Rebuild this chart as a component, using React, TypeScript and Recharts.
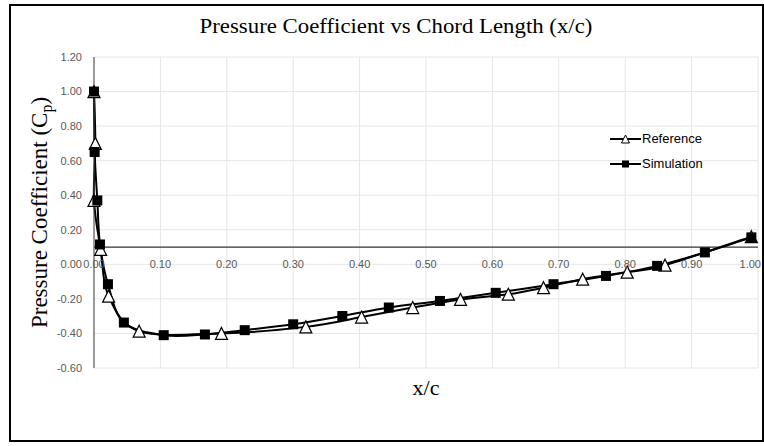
import React from "react";
import {
    LineChart,
    Line,
    XAxis,
    YAxis,
    CartesianGrid,
    ReferenceLine,
    Legend,
} from "recharts";

// x/c positions and Cp values
const REF_X = [0.0, 0.002, 0.0, 0.01, 0.022, 0.068, 0.192, 0.319, 0.403, 0.48, 0.552, 0.624, 0.677, 0.736, 0.803, 0.86, 0.99];
const REF_Y = [1.0, 0.7, 0.37, 0.086, -0.184, -0.387, -0.4, -0.362, -0.305, -0.25, -0.203, -0.173, -0.135, -0.086, -0.045, -0.005, 0.16];

const SIM_X = [0.0, 0.001, 0.005, 0.009, 0.021, 0.045, 0.105, 0.167, 0.227, 0.3, 0.374, 0.444, 0.521, 0.605, 0.692, 0.771, 0.848, 0.92, 0.99];
const SIM_Y = [1.0, 0.65, 0.37, 0.115, -0.115, -0.337, -0.41, -0.406, -0.381, -0.347, -0.299, -0.25, -0.212, -0.165, -0.115, -0.067, -0.009, 0.069, 0.156];

const X_TICKS = [0, 0.1, 0.2, 0.3, 0.4, 0.5, 0.6, 0.7, 0.8, 0.9, 1.0];
const Y_TICKS = [-0.6, -0.4, -0.2, 0, 0.2, 0.4, 0.6, 0.8, 1.0, 1.2];
const AXIS_CROSS = 0.1; // horizontal axis crosses here

const refData = REF_X.map((x, i) => ({ x, cp: REF_Y[i] }));
const simData = SIM_X.map((x, i) => ({ x, cp: SIM_Y[i] }));

const SANS = "'Liberation Sans', Arial, sans-serif";
const SERIF = "'Liberation Serif', 'Times New Roman', serif";
const TICK_GREY = "#595959";

// Excel-like smoothed line (Catmull-Rom as cubic beziers)
function smoothCurve(context: any) {
    let pts: number[][] = [];
    return {
        areaStart() {},
        areaEnd() {},
        lineStart() {
            pts = [];
        },
        point(x: number, y: number) {
            pts.push([+x, +y]);
        },
        lineEnd() {
            if (!pts.length) return;
            context.moveTo(pts[0][0], pts[0][1]);
            for (let i = 0; i < pts.length - 1; i++) {
                const p0 = pts[i - 1] || pts[i];
                const p1 = pts[i];
                const p2 = pts[i + 1];
                const p3 = pts[i + 2] || p2;
                context.bezierCurveTo(
                    p1[0] + (p2[0] - p0[0]) / 6,
                    p1[1] + (p2[1] - p0[1]) / 6,
                    p2[0] - (p3[0] - p1[0]) / 6,
                    p2[1] - (p3[1] - p1[1]) / 6,
                    p2[0],
                    p2[1]
                );
            }
        },
    };
}

const TriangleDot = (props: any) => {
    const { cx, cy, index } = props;
    if (cx == null || cy == null) return null;
    return (
        <path
            key={`t-${index}`}
            d={`M${cx},${cy - 6}L${cx + 6},${cy + 6}L${cx - 6},${cy + 6}Z`}
            fill="#fff"
            stroke="#000"
            strokeWidth={1.2}
        />
    );
};

const SquareDot = (props: any) => {
    const { cx, cy, index } = props;
    if (cx == null || cy == null) return null;
    return <rect key={`s-${index}`} x={cx - 5} y={cy - 5} width={10} height={10} fill="#000" />;
};

// x tick labels sit just under the axis line at Cp = 0.1, not at the plot bottom
const XTick = (props: any) => {
    const { x, y, payload } = props;
    const last = payload.value === X_TICKS[X_TICKS.length - 1];
    return (
        <text
            x={last ? x + 3 : x}
            y={y - 100}
            textAnchor={last ? "end" : "middle"}
            fill={TICK_GREY}
            fontSize={11}
            fontFamily={SANS}
        >
            {Number(payload.value).toFixed(2)}
        </text>
    );
};

const YTitle = (props: any) => {
    const vb = props.viewBox;
    const cx = vb.x + 47;
    const cy = vb.y + vb.height / 2;
    return (
        <text
            x={cx}
            y={cy}
            transform={`rotate(-90 ${cx} ${cy})`}
            textAnchor="middle"
            fill="#000"
            fontSize={23}
            fontFamily={SERIF}
        >
            Pressure Coefficient (C
            <tspan dy={5} fontSize={16}>p</tspan>
            <tspan dy={-5}>)</tspan>
        </text>
    );
};

const LegendIcon = ({ name }: { name: string }) => (
    <svg width={31} height={14} style={{ display: "block" }}>
        <line x1={0} y1={7} x2={31} y2={7} stroke="#000" strokeWidth={2} />
        {name === "Reference" ? (
            <path d="M15.5,3L19.5,11L11.5,11Z" fill="#fff" stroke="#000" strokeWidth={1} />
        ) : (
            <rect x={12} y={3.5} width={7} height={7} fill="#000" />
        )}
    </svg>
);

const LegendBox = () => (
    <div style={{ fontFamily: SANS, fontSize: 13, color: "#000" }}>
        {["Reference", "Simulation"].map((name) => (
            <div key={name} style={{ display: "flex", alignItems: "center", height: 25 }}>
                <LegendIcon name={name} />
                <span style={{ marginLeft: 1 }}>{name}</span>
            </div>
        ))}
    </div>
);

export default function App() {
    return (
        <div
            style={{
                position: "absolute",
                left: 0,
                top: 0,
                width: 764,
                height: 446,
                background: "#fff",
                overflow: "hidden",
            }}
        >
            <div
                style={{
                    position: "absolute",
                    left: 196,
                    top: 16,
                    width: 400,
                    textAlign: "center",
                    fontFamily: SERIF,
                    fontSize: 20,
                    lineHeight: "20px",
                    color: "#000",
                    transform: "scaleX(1.14)",
                    whiteSpace: "nowrap",
                }}
            >
                Pressure Coefficient vs Chord Length (x/c)
            </div>

            <LineChart
                width={764}
                height={446}
                margin={{ top: 57, right: 6, bottom: 0, left: 0 }}
            >
                <CartesianGrid stroke="#e6e6e6" strokeWidth={1} />

                <XAxis
                    type="number"
                    dataKey="x"
                    domain={[0, 1]}
                    ticks={X_TICKS}
                    interval={0}
                    height={78}
                    axisLine={false}
                    tickLine={false}
                    tickSize={0}
                    tickMargin={0}
                    tick={<XTick />}
                    label={{
                        value: "x/c",
                        position: "insideTop",
                        offset: 11,
                        fill: "#000",
                        fontSize: 22,
                        fontFamily: SERIF,
                    }}
                />

                <YAxis
                    type="number"
                    domain={[-0.6, 1.2]}
                    ticks={Y_TICKS}
                    interval={0}
                    width={94}
                    axisLine={{ stroke: "#404040", strokeWidth: 1 }}
                    tickLine={false}
                    tickSize={0}
                    tickMargin={12}
                    tick={{ fill: TICK_GREY, fontSize: 11, fontFamily: SANS }}
                    tickFormatter={(v: number) => v.toFixed(2)}
                    label={(p: any) => <YTitle {...p} />}
                />

                <ReferenceLine y={AXIS_CROSS} stroke="#333" strokeWidth={1.3} />

                <Legend
                    layout="vertical"
                    align="center"
                    verticalAlign="middle"
                    wrapperStyle={{ left: 610, top: 126, width: 110 }}
                    content={() => <LegendBox />}
                />

                <Line
                    data={refData}
                    dataKey="cp"
                    name="Reference"
                    type={smoothCurve as any}
                    stroke="#000"
                    strokeWidth={2}
                    dot={TriangleDot}
                    activeDot={false}
                    isAnimationActive={false}
                />

                <Line
                    data={simData}
                    dataKey="cp"
                    name="Simulation"
                    type={smoothCurve as any}
                    stroke="#000"
                    strokeWidth={2}
                    dot={SquareDot}
                    activeDot={false}
                    isAnimationActive={false}
                />
            </LineChart>

            <div
                style={{
                    position: "absolute",
                    left: 9,
                    top: 4,
                    width: 755,
                    height: 438,
                    border: "2px solid #000",
                    boxSizing: "border-box",
                    pointerEvents: "none",
                }}
            />
        </div>
    );
}
